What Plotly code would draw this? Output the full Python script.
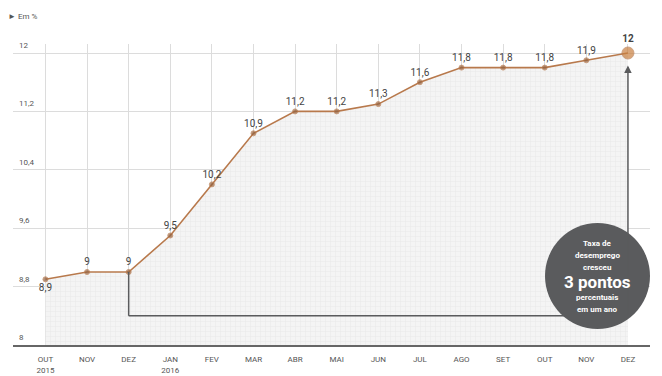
import plotly.graph_objects as go

# Monthly unemployment rate, %
months = ["OUT<br>2015", "NOV", "DEZ", "JAN<br>2016", "FEV", "MAR", "ABR", "MAI",
          "JUN", "JUL", "AGO", "SET", "OUT", "NOV", "DEZ"]
rate = [8.9, 9.0, 9.0, 9.5, 10.2, 10.9, 11.2, 11.2, 11.3, 11.6, 11.8, 11.8, 11.8, 11.9, 12.0]
y_ticks = [8, 8.8, 9.6, 10.4, 11.2, 12]


def br(v):
    s = f"{v:.1f}".replace(".", ",")
    return s[:-2] if s.endswith(",0") else s


idx = list(range(len(rate)))
labels = [br(v) for v in rate]
labels[-1] = f"<b>{labels[-1]}</b>"
text_pos = ["bottom center"] + ["top center"] * (len(rate) - 1)

FONT = "Liberation Sans Narrow, Roboto, Arial"
LINE = "#b8794c"
DOT = "#94623f"
GREY = "#5a5b5d"

W, H = 662, 376
L, R, T, B = 13, 12, 44, 31
PW, PH = W - L - R, H - T - B

fig = go.Figure()

# shaded area under the curve
fig.add_trace(go.Scatter(
    x=idx, y=rate, mode="none", fill="tozeroy",
    fillcolor="#f3f3f3",
    fillpattern=dict(shape="+", size=5, solidity=0.14, fgcolor="#d6d6d6", bgcolor="#f4f4f4"),
    hoverinfo="skip", showlegend=False,
))

# bracket from DEZ 2015 to DEZ 2016
bracket_y = 8.4
fig.add_shape(type="line", x0=2, x1=2, y0=rate[2], y1=bracket_y,
              line=dict(color=GREY, width=1.5), layer="above")
fig.add_shape(type="line", x0=2, x1=14, y0=bracket_y, y1=bracket_y,
              line=dict(color=GREY, width=1.5), layer="above")
fig.add_annotation(x=14, y=rate[-1] - 0.17, ax=14, ay=bracket_y, xref="x", yref="y",
                   axref="x", ayref="y", showarrow=True, arrowhead=2, arrowsize=1,
                   arrowwidth=1.5, arrowcolor=GREY, text="")

# main line with value labels
fig.add_trace(go.Scatter(
    x=idx, y=rate, mode="lines+markers+text",
    line=dict(color=LINE, width=1.6),
    marker=dict(size=[5] * (len(rate) - 1) + [12],
                color=[DOT] * (len(rate) - 1) + ["#c9803f"]),
    text=labels, textposition=text_pos,
    textfont=dict(family=FONT, size=10, color="#444444"),
    hoverinfo="skip", showlegend=False, cliponaxis=False,
))


def px(x):
    return (x - L) / PW


def py(y):
    return (H - B - y) / PH


# callout circle
fig.add_shape(type="circle", xref="paper", yref="paper",
              x0=px(545), x1=px(650), y0=py(329), y1=py(223),
              fillcolor=GREY, line=dict(width=0), layer="above")
circle_lines = [
    ("Taxa de", 243, 8),
    ("desemprego", 255, 8),
    ("cresceu", 267, 8),
    ("3 pontos", 282, 17),
    ("percentuais", 297, 8),
    ("em um ano", 309, 8),
]
for txt, yy, sz in circle_lines:
    fig.add_annotation(x=px(597), y=py(yy), xref="paper", yref="paper",
                       text=f"<b>{txt}</b>", showarrow=False,
                       xanchor="center", yanchor="middle",
                       font=dict(family=FONT, size=sz, color="white"))

# y tick labels sitting above their gridlines
for v in y_ticks:
    fig.add_annotation(x=px(17), y=v, xref="paper", yref="y", text=br(v),
                       showarrow=False, xanchor="left", yanchor="bottom", yshift=1,
                       font=dict(family=FONT, size=8, color="#555555"))

fig.add_annotation(x=px(6), y=py(17), xref="paper", yref="paper",
                   text="► Em %", showarrow=False, xanchor="left", yanchor="middle",
                   font=dict(family=FONT, size=8, color="#555555"))

fig.update_layout(
    width=W, height=H,
    margin=dict(l=L, r=R, t=T, b=B, autoexpand=False),
    paper_bgcolor="white", plot_bgcolor="white",
    xaxis=dict(range=[-0.78, 14.53], tickvals=idx, ticktext=months,
               showgrid=True, gridcolor="#dcdcdc", gridwidth=1,
               showline=True, linecolor="#666666", linewidth=1.5,
               ticks="outside", ticklen=6, tickcolor="rgba(0,0,0,0)",
               tickfont=dict(family=FONT, size=8, color="#555555"),
               zeroline=False, fixedrange=True, automargin=False),
    yaxis=dict(range=[8, 8 + PH / 73], tickvals=y_ticks, showticklabels=False,
               showgrid=True, gridcolor="#dcdcdc", gridwidth=1,
               zeroline=False, fixedrange=True, automargin=False),
)

fig.write_html("out.html")
